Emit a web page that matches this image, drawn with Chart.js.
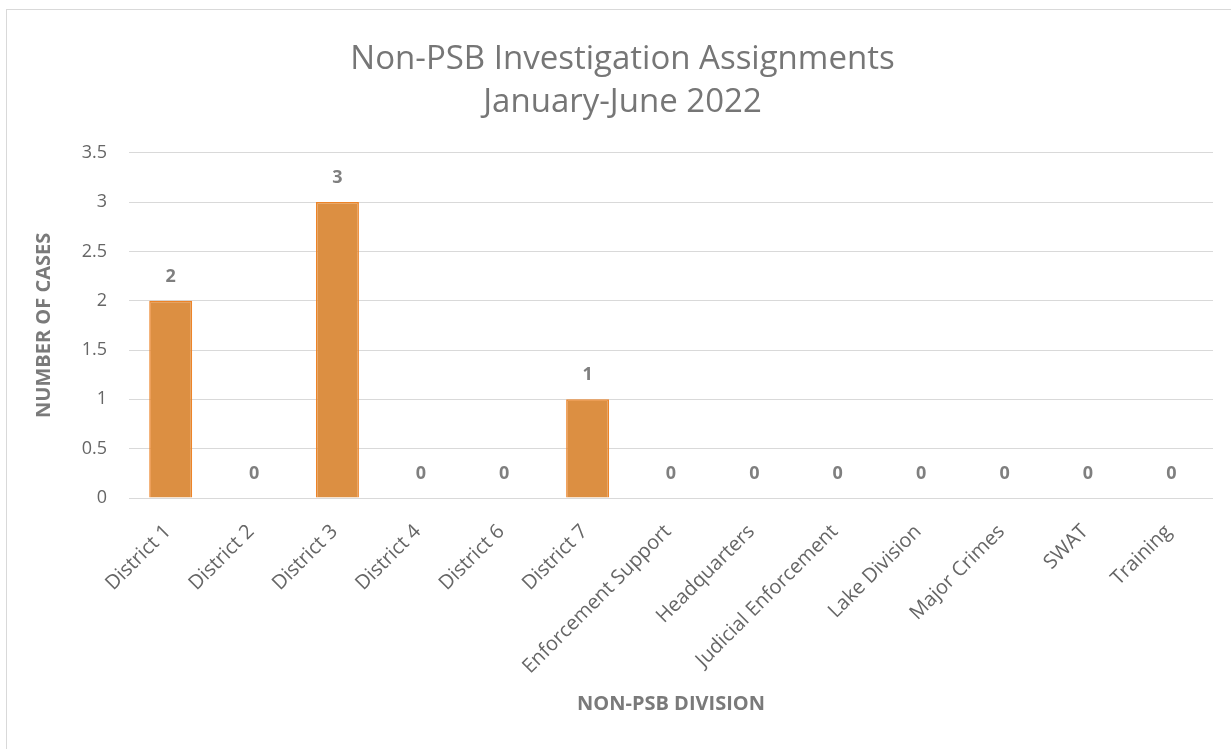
<!DOCTYPE html>
<html>
<head>
<meta charset="utf-8">
<script src="https://cdn.jsdelivr.net/npm/chart.js@4.4.0/dist/chart.umd.min.js"></script>
<style>
  html, body { margin: 0; padding: 0; background: #fff; }
  #frame { position: absolute; left: 6px; top: 9px; width: 1300px; height: 800px;
           border-left: 1px solid #d9d9d9; border-top: 1px solid #d9d9d9; }
  #wrap { position: absolute; left: 0; top: 0; width: 1231px; height: 749px; }
</style>
</head>
<body>
<div id="frame"></div>
<div id="wrap"><canvas id="myChart"></canvas></div>
<script>
const divisions = ['District 1', 'District 2', 'District 3', 'District 4', 'District 6', 'District 7',
    'Enforcement Support', 'Headquarters', 'Judicial Enforcement', 'Lake Division',
    'Major Crimes', 'SWAT', 'Training'];
const cases = [2, 0, 3, 0, 0, 1, 0, 0, 0, 0, 0, 0, 0];
const titleLines = ['Non-PSB Investigation Assignments', 'January-June 2022'];

const FONT = '"Open Sans", sans-serif';

// value labels above each bar
const valueLabels = {
    id: 'valueLabels',
    afterDatasetsDraw(chart) {
        const ctx = chart.ctx;
        const meta = chart.getDatasetMeta(0);
        ctx.save();
        ctx.font = 'bold 18px ' + FONT;
        ctx.fillStyle = '#7f7f7f';
        ctx.textAlign = 'center';
        ctx.textBaseline = 'alphabetic';
        meta.data.forEach((bar, i) => {
            ctx.fillText(String(cases[i]), bar.x, bar.y - 19);
        });
        ctx.restore();
    }
};

const ctx = document.getElementById('myChart').getContext('2d');
const chart = new Chart(ctx, {
    type: 'bar',
    data: {
        labels: divisions,
        datasets: [{
            data: cases,
            backgroundColor: 'rgb(220, 143, 66)',
            borderColor: 'rgb(237, 132, 40)',
            borderWidth: 1.5,
            categoryPercentage: 1,
            barPercentage: 0.515
        }]
    },
    options: {
        responsive: true,
        maintainAspectRatio: false,
        animation: false,
        layout: { padding: { top: 14, right: 18, bottom: 33, left: 32 } },
        plugins: {
            legend: { display: false },
            tooltip: { enabled: false },
            title: {
                display: true,
                text: titleLines,
                color: '#767676',
                font: { family: FONT, size: 33, weight: 'normal', lineHeight: 1.3 },
                padding: { top: 24, bottom: 29 }
            }
        },
        scales: {
            x: {
                grid: { display: false },
                border: { display: false },
                ticks: {
                    color: '#666666',
                    font: { family: FONT, size: 20 },
                    maxRotation: 45,
                    minRotation: 45,
                    padding: 14,
                    labelOffset: -3,
                    autoSkip: false
                },
                title: {
                    display: true,
                    text: 'NON-PSB DIVISION',
                    color: '#7a7a7a',
                    font: { family: FONT, size: 20, weight: 'bold' },
                    padding: { top: 10, bottom: 0 }
                },
                afterFit(scale) { scale.height = 749 - 33 - 498; }
            },
            y: {
                min: 0,
                max: 3.5,
                grid: { color: '#d9d9d9', lineWidth: 1, drawTicks: false },
                border: { display: false },
                ticks: {
                    stepSize: 0.5,
                    color: '#666666',
                    font: { family: FONT, size: 18 },
                    padding: 22,
                    callback: value => String(value)
                },
                title: {
                    display: true,
                    text: 'NUMBER OF CASES',
                    color: '#7a7a7a',
                    font: { family: FONT, size: 20, weight: 'bold' },
                    padding: { top: 0, bottom: 4 }
                },
                afterFit(scale) { scale.width = 97; }
            }
        }
    },
    plugins: [valueLabels]
});
</script>
</body>
</html>
